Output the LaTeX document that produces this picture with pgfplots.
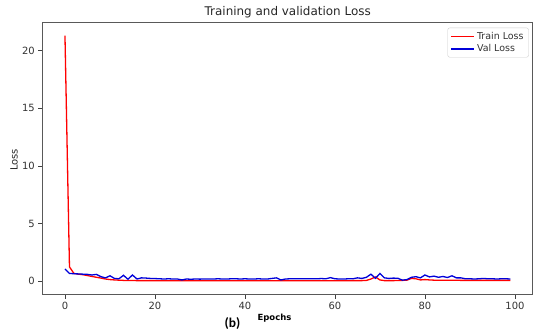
\documentclass[border=0pt]{standalone}
\usepackage{fontspec}
\setmainfont{DejaVu Sans}
\newfontfamily\carlito{Carlito}
\usepackage{pgfplots}
\usepackage{pgfplotstable}
\pgfplotsset{compat=1.18}
\pgfplotstableread{
ep train val
0 21.3 1.07
1 1.25 0.68
2 0.68 0.66
3 0.62 0.64
4 0.57 0.62
5 0.50 0.60
6 0.42 0.55
7 0.35 0.60
8 0.28 0.40
9 0.20 0.30
10 0.15 0.48
11 0.12 0.25
12 0.10 0.22
13 0.08 0.52
14 0.07 0.18
15 0.07 0.55
16 0.06 0.20
17 0.06 0.30
18 0.06 0.28
19 0.06 0.25
20 0.06 0.24
21 0.05 0.22
22 0.05 0.20
23 0.05 0.22
24 0.05 0.20
25 0.05 0.20
26 0.06 0.12
27 0.05 0.20
28 0.05 0.18
29 0.05 0.20
30 0.05 0.19
31 0.05 0.20
32 0.05 0.20
33 0.05 0.20
34 0.05 0.22
35 0.05 0.20
36 0.05 0.20
37 0.05 0.22
38 0.05 0.22
39 0.05 0.20
40 0.05 0.22
41 0.05 0.20
42 0.05 0.20
43 0.05 0.22
44 0.05 0.20
45 0.05 0.20
46 0.05 0.25
47 0.05 0.30
48 0.06 0.12
49 0.05 0.20
50 0.05 0.22
51 0.05 0.22
52 0.05 0.22
53 0.05 0.22
54 0.05 0.22
55 0.05 0.22
56 0.05 0.22
57 0.05 0.24
58 0.05 0.22
59 0.05 0.32
60 0.05 0.22
61 0.05 0.20
62 0.05 0.20
63 0.05 0.22
64 0.06 0.22
65 0.06 0.30
66 0.06 0.25
67 0.08 0.35
68 0.20 0.62
69 0.38 0.26
70 0.12 0.68
71 0.06 0.30
72 0.06 0.25
73 0.06 0.28
74 0.07 0.26
75 0.08 0.10
76 0.10 0.15
77 0.25 0.35
78 0.22 0.40
79 0.12 0.30
80 0.15 0.55
81 0.12 0.38
82 0.10 0.45
83 0.10 0.35
84 0.10 0.42
85 0.10 0.33
86 0.10 0.48
87 0.10 0.30
88 0.08 0.30
89 0.08 0.22
90 0.08 0.22
91 0.08 0.20
92 0.08 0.22
93 0.08 0.25
94 0.08 0.22
95 0.08 0.22
96 0.08 0.20
97 0.08 0.22
98 0.08 0.22
99 0.08 0.20
}\losstable
\begin{document}
\begin{tikzpicture}
\useasboundingbox (-42.7bp,-41bp) rectangle (491.3bp,294bp);
\begin{axis}[
  at={(0,0)}, anchor=south west,
  scale only axis, width=490bp, height=271.3bp,
  xmin=-4.95, xmax=103.95, ymin=-1.1, ymax=22.43,
  xtick={0,20,...,100}, ytick={0,5,...,20},
  tick align=outside, tick pos=left,
  major tick length=4.5bp,
  axis line style={black!65, line width=0.9bp},
  tick style={black!75, line width=0.7bp},
  /pgf/number format/assume math mode=true,
  ticklabel style={font=\fontsize{10}{12}\selectfont, text=black!80},
  legend style={at={(1,1)}, anchor=north east, xshift=-4bp, yshift=-5bp,
    draw=black!20, rounded corners=2pt, font=\fontsize{9.5}{11}\selectfont,
    text=black!80, inner xsep=3bp, inner ysep=2bp, row sep=0bp},
  legend cell align=left,
  legend image code/.code={\draw[#1] (0bp,0bp) -- (23bp,0bp);},
]
\addplot[red, line width=1.3bp] table[x=ep, y=train] {\losstable};
\addlegendentry{Train Loss}
\addplot[blue!85!black, line width=1.3bp] table[x=ep, y=val] {\losstable};
\addlegendentry{Val Loss}
\end{axis}
\node[font=\fontsize{12}{14}\selectfont, text=black!85] at (245bp,282bp) {Training and validation Loss};
\node[font=\fontsize{10}{12}\selectfont, text=black!85, rotate=90] at (-28.7bp,134bp) {Loss};
\node[font=\bfseries\fontsize{8.5}{10}\selectfont] at (231.8bp,-24bp) {Epochs};
\node[font=\carlito\bfseries\fontsize{13.5}{15}\selectfont] at (189.8bp,-30bp) {(b)};
\end{tikzpicture}
\end{document}
